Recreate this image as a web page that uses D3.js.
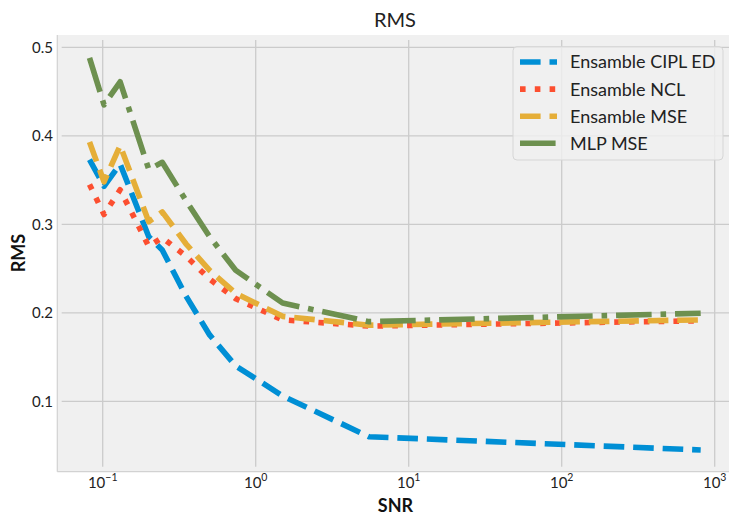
<!DOCTYPE html>
<html>
<head>
<meta charset="utf-8">
<script src="https://cdn.jsdelivr.net/npm/d3@7/dist/d3.min.js"></script>
<style>
  html, body { margin: 0; padding: 0; background: #ffffff; }
  svg { display: block; font-family: Lato, "Open Sans", sans-serif; }
</style>
</head>
<body>
<div id="chart"></div>
<script>
// ---- data ----
const snr = [0.082, 0.102, 0.13, 0.2, 0.245, 0.35, 0.5, 0.74, 1.5, 5.5, 810];
const cipl = [0.373, 0.343, 0.368, 0.286, 0.271, 0.219, 0.175, 0.140, 0.106, 0.060, 0.045];
const ncl  = [0.345, 0.311, 0.339, 0.275, 0.285, 0.264, 0.238, 0.216, 0.192, 0.185, 0.191];
const ensMse = [0.393, 0.348, 0.389, 0.303, 0.314, 0.278, 0.248, 0.222, 0.196, 0.186, 0.192];
const mlpMse = [0.488, 0.435, 0.461, 0.362, 0.370, 0.327, 0.286, 0.248, 0.211, 0.190, 0.1995];
const seriesNames = ["Ensamble CIPL ED", "Ensamble NCL", "Ensamble MSE", "MLP MSE"];
const seriesColors = ["#008fd5", "#fc4f30", "#e5ae38", "#6d904f"];
const seriesDash = ["20.6,8.9", "5.6,9.2", "20.6,8.9", "35.6,8.9,5.6,8.9"];
const xTicks = [0.1, 1, 10, 100, 1000];
const xTickExp = ["\u22121", "0", "1", "2", "3"];
const yTicks = [0.1, 0.2, 0.3, 0.4, 0.5];
const title = "RMS";
const xLabel = "SNR";
const yLabel = "RMS";

(function () {
const W = 729, H = 514;
const svg = d3.select("#chart").append("svg").attr("width", W).attr("height", H);

// plot area
const pL = 57.3, pR = 731, pT = 35, pB = 471.7;
const x = d3.scaleLog().domain([0.1, 1000]).range([102.7, 714.7]);
const y = d3.scaleLinear().domain([0.1, 0.5]).range([401.3, 47.3]);

svg.append("rect").attr("x", pL).attr("y", pT)
  .attr("width", pR - pL).attr("height", pB - pT).attr("fill", "#f0f0f0");

// grid
const g = svg.append("g");
g.selectAll(".gx").data(xTicks).enter().append("line")
  .attr("x1", d => x(d)).attr("x2", d => x(d))
  .attr("y1", pT + 5).attr("y2", pB - 5)
  .attr("stroke", "#cbcbcb").attr("stroke-width", 1.3);
g.selectAll(".gy").data(yTicks).enter().append("line")
  .attr("x1", pL + 4.4).attr("x2", pR)
  .attr("y1", d => y(d)).attr("y2", d => y(d))
  .attr("stroke", "#cbcbcb").attr("stroke-width", 1.3);

// spines
svg.append("line").attr("x1", pL).attr("x2", pL).attr("y1", pT).attr("y2", pB)
  .attr("stroke", "#d2d2d2").attr("stroke-width", 1.2);
svg.append("line").attr("x1", pL).attr("x2", pR).attr("y1", pB).attr("y2", pB)
  .attr("stroke", "#d2d2d2").attr("stroke-width", 1.2);

// tick labels
svg.selectAll(".yt").data(yTicks).enter().append("text")
  .attr("x", 53).attr("y", d => y(d)).attr("dy", "0.36em")
  .attr("text-anchor", "end").attr("font-size", 15).attr("fill", "#222")
  .text(d => d3.format(".1f")(d));
const xt = svg.selectAll(".xt").data(xTicks).enter().append("text")
  .attr("x", d => x(d)).attr("y", 488.3)
  .attr("text-anchor", "middle").attr("font-size", 15).attr("fill", "#222");
xt.append("tspan").text("10");
xt.append("tspan").attr("dy", -7).attr("font-size", 10.5).text((d, i) => xTickExp[i]);

// lines
svg.append("clipPath").attr("id", "clip").append("rect")
  .attr("x", pL).attr("y", pT).attr("width", pR - pL).attr("height", pB - pT);
const allSeries = [cipl, ncl, ensMse, mlpMse];
const line = d3.line().x(d => x(d[0])).y(d => y(d[1]));
const lg = svg.append("g").attr("clip-path", "url(#clip)");
allSeries.forEach((vals, i) => {
  lg.append("path")
    .attr("d", line(snr.map((s, j) => [s, vals[j]])))
    .attr("fill", "none").attr("stroke", seriesColors[i]).attr("stroke-width", 5.6)
    .attr("stroke-dasharray", seriesDash[i])
    .attr("stroke-linejoin", "round").attr("stroke-linecap", "butt");
});

// legend
const leg = svg.append("g");
leg.append("rect").attr("x", 513).attr("y", 46.7).attr("width", 210).attr("height", 113.3)
  .attr("rx", 4).attr("fill", "#f0f0f0").attr("fill-opacity", 0.8)
  .attr("stroke", "#d6d6d6").attr("stroke-width", 1);
seriesNames.forEach((name, i) => {
  const cy = 62 + i * 27.1;
  leg.append("line").attr("x1", 520).attr("x2", 557).attr("y1", cy).attr("y2", cy)
    .attr("stroke", seriesColors[i]).attr("stroke-width", 5.6)
    .attr("stroke-dasharray", seriesDash[i]).attr("stroke-linecap", "butt");
  leg.append("text").attr("x", 570).attr("y", cy).attr("dy", "0.36em")
    .attr("font-size", 18).attr("fill", "#222").text(name);
});

// titles
svg.append("text").attr("x", 395).attr("y", 27.3).attr("text-anchor", "middle")
  .attr("font-size", 20).attr("fill", "#222").text(title);
svg.append("text").attr("x", 395.5).attr("y", 511.5).attr("text-anchor", "middle")
  .attr("font-size", 18).attr("font-weight", "bold").attr("fill", "#111").text(xLabel);
svg.append("text").attr("transform", "translate(25,253) rotate(-90)").attr("text-anchor", "middle")
  .attr("font-size", 18).attr("font-weight", "bold").attr("fill", "#111").text(yLabel);
})();
</script>
</body>
</html>
